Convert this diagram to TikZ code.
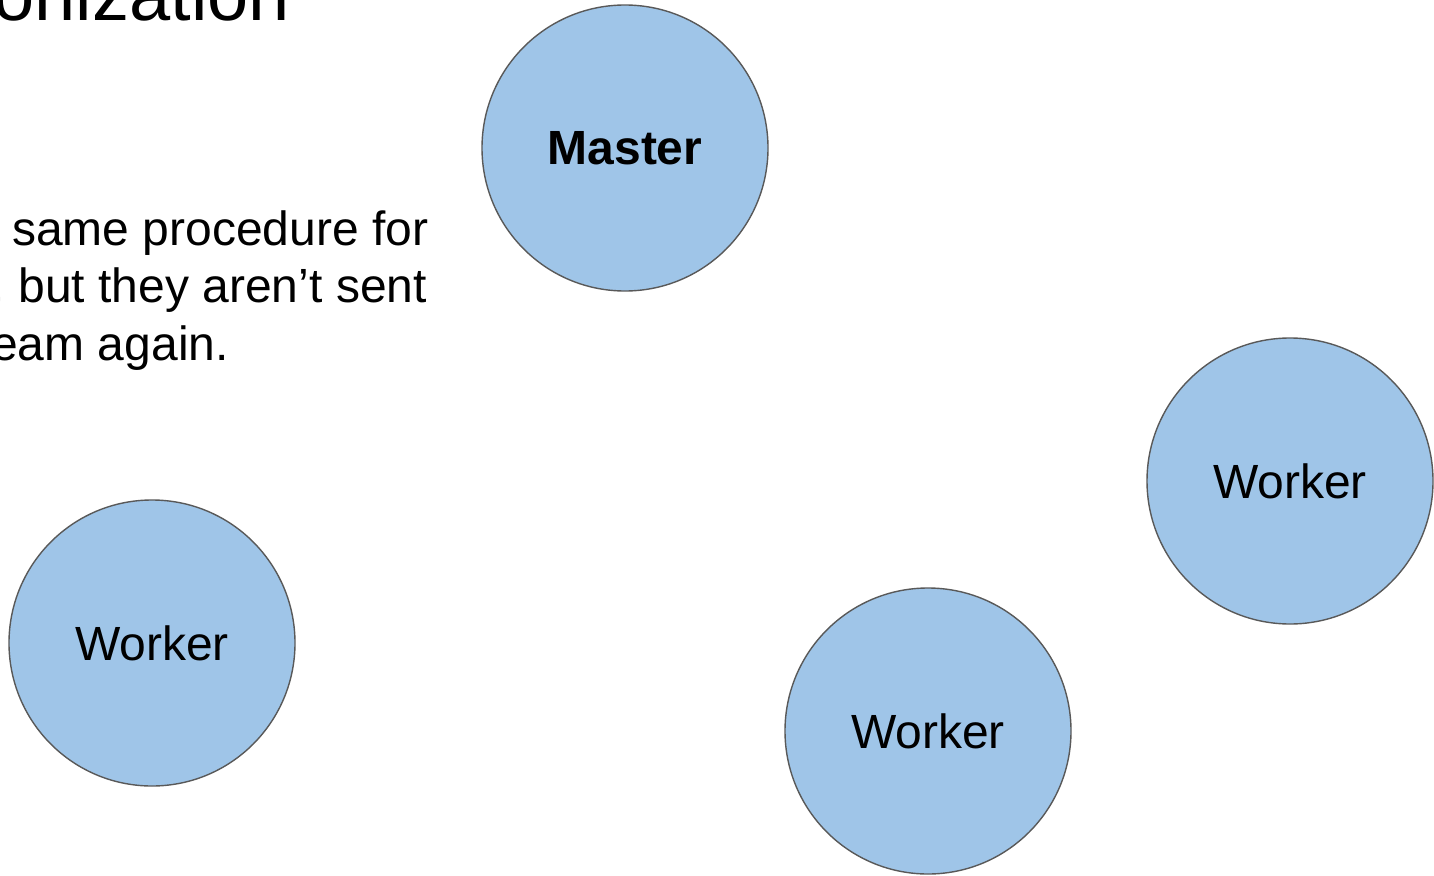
\documentclass[tikz,border=0pt]{standalone}
\usepackage{fontspec}
\setmainfont{Liberation Sans}
\definecolor{nodefill}{HTML}{9FC5E8}
\definecolor{nodeline}{HTML}{595959}
\begin{document}
\begin{tikzpicture}[x=1pt,y=-1pt,
  roundnode/.style={circle, draw=nodeline, line width=1.4pt, fill=nodefill,
    minimum size=286pt, inner sep=0pt, font=\fontsize{48}{56}\selectfont},
  bodyline/.style={inner sep=0pt, font=\fontsize{48}{56}\selectfont},
  titleline/.style={inner sep=0pt, font=\fontsize{74}{80}\selectfont}]
\useasboundingbox (0,0) rectangle (1434,875);
\clip (0,0) rectangle (1434,875);
\fill[white] (0,0) rectangle (1434,875);

% slide title and body text, cut at the left edge
\node[titleline, anchor=base east] (title) at (290,21) {onization};
\node[bodyline, anchor=base west] (l1) at (12,245) {same procedure for};
\node[bodyline, anchor=base east] (l2) at (427,302) {, but they aren’t sent};
\node[bodyline, anchor=base east] (l3) at (229,360) {eam again.};

% cluster nodes
\node[roundnode] (master) at (625,148) {\textbf{Master}};
\node[roundnode] (w1) at (1290,481) {Worker};
\node[roundnode] (w2) at (152,643) {Worker};
\node[roundnode] (w3) at (928,731) {Worker};
\end{tikzpicture}
\end{document}
